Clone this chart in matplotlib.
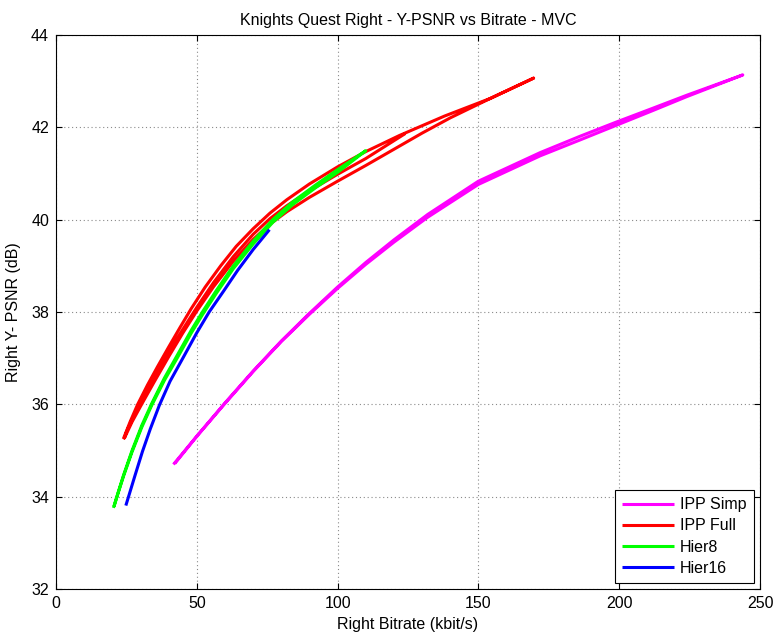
import numpy as np
import matplotlib
matplotlib.use("Agg")
import matplotlib.pyplot as plt

plt.rcParams['font.family'] = ['Liberation Sans', 'DejaVu Sans']

# ---- data ----
# IPP Simp : outgoing and returning paths
simp_up_x = [41.7, 50, 60, 70, 80, 90, 100, 110, 120, 132, 150, 172, 186, 199, 212, 224, 243.9]
simp_up_y = [34.70, 35.31, 36.03, 36.72, 37.37, 37.97, 38.54, 39.07, 39.56, 40.11, 40.83, 41.45,
             41.80, 42.11, 42.41, 42.69, 43.13]
simp_dn_x = [243.9, 224, 212, 199, 186, 172, 150, 132, 120, 110, 100, 90, 80, 70, 60, 50, 42.2]
simp_dn_y = [43.13, 42.66, 42.36, 42.04, 41.72, 41.38, 40.76, 40.05, 39.51, 39.03, 38.51, 37.95,
             37.36, 36.71, 36.02, 35.31, 34.72]

# IPP Full : upper run, lower run, middle run
full_up_x = [23.9, 26.3, 29.0, 32.5, 36, 40, 44, 48, 53, 58.5, 64, 70, 76, 82, 90, 100, 110,
             122, 138, 154.2, 169.6]
full_up_y = [35.25, 35.62, 36.0, 36.42, 36.81, 37.24, 37.66, 38.07, 38.54, 39.0, 39.42, 39.80,
             40.14, 40.43, 40.77, 41.14, 41.47, 41.82, 42.24, 42.62, 43.06]
full_dn_x = [154.2, 140, 130, 120, 110, 100, 90, 82, 76, 70, 63, 56, 50, 45, 40, 35, 30.4,
             27, 24.3]
full_dn_y = [42.62, 42.20, 41.87, 41.52, 41.17, 40.83, 40.48, 40.17, 39.90, 39.57, 39.10, 38.55,
             38.02, 37.54, 37.03, 36.50, 36.0, 35.62, 35.27]
full_md_x = [25, 28, 31, 35, 40, 45, 50, 56, 63, 70, 76, 82, 90, 100, 110, 124]
full_md_y = [35.40, 35.80, 36.14, 36.56, 37.13, 37.62, 38.10, 38.64, 39.20, 39.68, 40.02, 40.30,
             40.62, 40.98, 41.32, 41.86]

# Hier8
h8_up_x = [20.4, 22, 24, 27, 30.5, 34, 38.5, 43.3, 48, 52, 57, 63, 70, 77, 84, 92, 100, 110]
h8_up_y = [33.76, 34.08, 34.47, 35.0, 35.55, 36.02, 36.57, 37.09, 37.60, 38.0, 38.47, 39.0,
           39.53, 40.0, 40.38, 40.74, 41.08, 41.49]
h8_dn_x = [110, 100, 92, 84, 77, 70, 63, 57, 52, 48, 43.3, 38.5, 34, 30.5, 27, 24, 22, 20.6]
h8_dn_y = [41.49, 41.02, 40.68, 40.32, 39.94, 39.47, 38.94, 38.41, 37.94, 37.54, 37.03, 36.52,
           35.98, 35.51, 34.97, 34.45, 34.07, 33.79]

# Hier16
h16_x = [24.8, 26, 28, 30.7, 33.5, 36.7, 40.5, 45.5, 50, 54.4, 59.5, 64.5, 70, 75.8]
h16_y = [33.81, 34.05, 34.45, 34.98, 35.47, 35.98, 36.5, 37.05, 37.55, 38.0, 38.45, 38.9,
         39.35, 39.78]

labels = ['IPP Simp', 'IPP Full', 'Hier8', 'Hier16']
colors = ['#FF00FF', '#FF0000', '#00FF00', '#0000FF']

x_ticks = [0, 50, 100, 150, 200, 250]
y_ticks = [32, 34, 36, 38, 40, 42, 44]

# ---- figure ----
fig = plt.figure(figsize=(7.75, 6.38), dpi=100)
ax = fig.add_axes([56/775, 1-589.2/638, (760-56)/775, (589.2-34.7)/638])

lw = 2.2
kw = dict(lw=lw, solid_joinstyle='round', solid_capstyle='butt')
ax.plot(simp_up_x + simp_dn_x, simp_up_y + simp_dn_y, color=colors[0], label=labels[0], **kw)
ax.plot(full_up_x + full_dn_x + full_md_x, full_up_y + full_dn_y + full_md_y,
        color=colors[1], label=labels[1], **kw)
ax.plot(h8_up_x + h8_dn_x, h8_up_y + h8_dn_y, color=colors[2], label=labels[2], **kw)
ax.plot(h16_x, h16_y, color=colors[3], label=labels[3], **kw)

ax.set_xlim(0, 250)
ax.set_ylim(32, 44)
ax.set_xticks(x_ticks)
ax.set_yticks(y_ticks)

fs = 11.5
ax.tick_params(direction='in', top=True, right=True, length=4, width=0.8,
               labelsize=fs, pad=5)
for s in ax.spines.values():
    s.set_linewidth(0.8)
    s.set_color('black')

ax.grid(True, color='#8a8a8a', linestyle=(0, (1, 2.5)), linewidth=0.8)
ax.set_axisbelow(True)

ax.set_title('Knights Quest Right - Y-PSNR vs Bitrate - MVC', fontsize=fs, pad=7)
ax.set_xlabel('Right Bitrate (kbit/s)', fontsize=fs, labelpad=4)
ax.set_ylabel('Right Y- PSNR (dB)', fontsize=fs, labelpad=7)

leg = ax.legend(loc='lower right', fontsize=fs, frameon=True, fancybox=False,
                edgecolor='black', framealpha=1, handlelength=3.2, handletextpad=0.4,
                labelspacing=0.38, borderpad=0.45, borderaxespad=0.4)
leg.get_frame().set_linewidth(0.8)
for h in leg.get_lines():
    h.set_linewidth(2.2)

fig.savefig('out.png', dpi=100)
